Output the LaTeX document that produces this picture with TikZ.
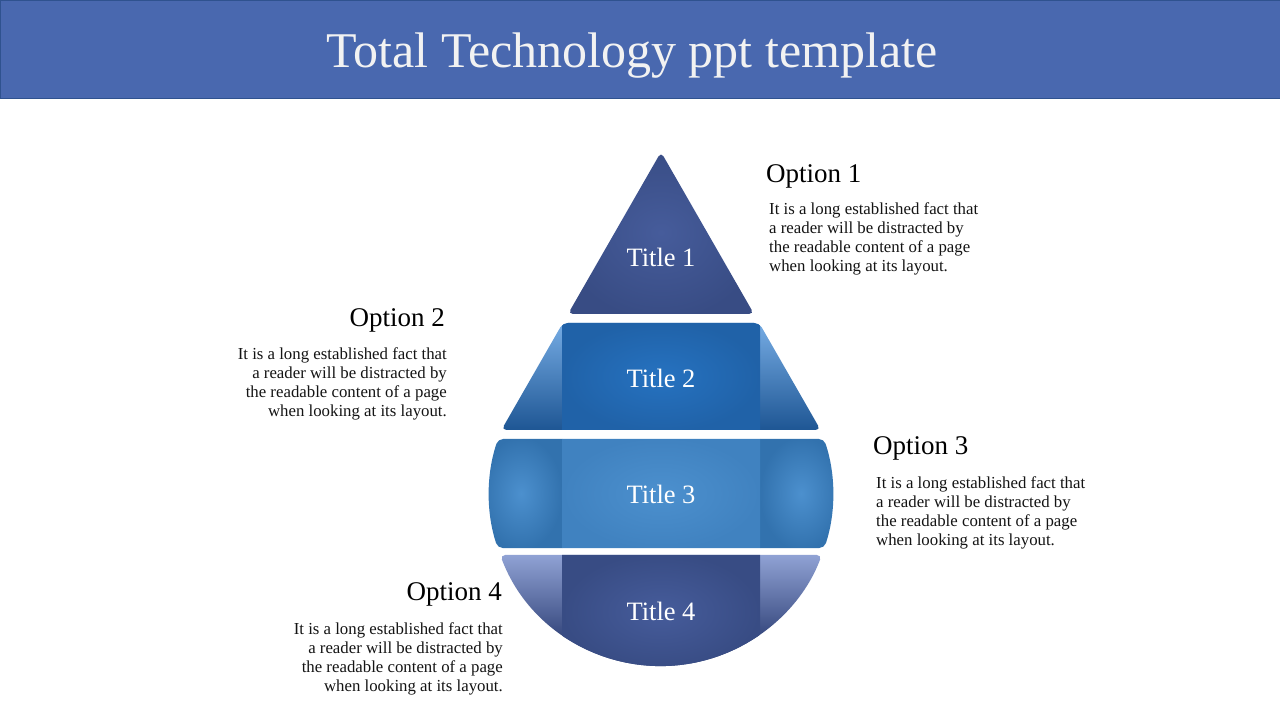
\documentclass[tikz,border=0pt]{standalone}
\usepackage{fontspec}
\setmainfont{Liberation Serif}
\usetikzlibrary{positioning,calc}
\definecolor{headblue}{RGB}{73,104,175}
\definecolor{headline}{RGB}{47,82,143}
\definecolor{navyin}{RGB}{70,92,155}
\definecolor{navyout}{RGB}{56,76,132}
\definecolor{royalin}{RGB}{38,114,192}
\definecolor{royalout}{RGB}{32,98,168}
\definecolor{royaltop}{RGB}{118,172,228}
\definecolor{royalmid}{RGB}{46,134,220}
\definecolor{royalbot}{RGB}{30,86,148}
\definecolor{skyin}{RGB}{76,144,206}
\definecolor{skyout}{RGB}{64,130,192}
\definecolor{skyside}{RGB}{50,114,174}
\definecolor{slatetop}{RGB}{144,162,212}
\definecolor{slatemid}{RGB}{80,104,182}
\definecolor{slatebot}{RGB}{50,68,122}
\definecolor{bodygray}{RGB}{20,20,20}
\tikzset{
  headtext/.style={text=white!95!black,font=\fontsize{50}{56}\selectfont,inner sep=0pt},
  titletext/.style={text=white,font=\fontsize{26.5}{30}\selectfont,inner sep=0pt},
  opthead/.style={text=black,font=\fontsize{27}{30}\selectfont,inner sep=0pt},
  optbody/.style={text=bodygray,font=\fontsize{16.8}{19}\selectfont,inner sep=0pt},
  slice/.style={rounded corners=5pt}
}
\begin{document}
\begin{tikzpicture}[x=1pt,y=1pt]
  \useasboundingbox (0,0) rectangle (1280,720);
  % header bar
  \fill[white] (0,0) rectangle (1280,720);
  \draw[fill=headblue,draw=headline] (0,622) rectangle (1280,720);
  \node[headtext] (head) at (632,664) {Total Technology ppt template};

  % teardrop: apex and circle
  \coordinate (apex) at (661,568);
  \coordinate (ctr) at (661,226);

  % slice 1
  \begin{scope}
    \clip[slice] (apex) -- (568,406) -- (754,406) -- cycle;
    \shade[inner color=navyin,outer color=navyout] (560,400) rectangle (762,575);
  \end{scope}
  % slice 2
  \begin{scope}
    \clip[slice] (562.8,397) -- (501.4,290) -- (820.6,290) -- (759.2,397) -- cycle;
    \shade[top color=royaltop,middle color=royalmid,bottom color=royalbot] (495,290) rectangle (830,397);
    \shade[inner color=royalin,outer color=royalout] (562,288) rectangle (760,399);
  \end{scope}
  % slice 3
  \begin{scope}
    \clip[slice] ($(ctr)+(161.35:172)$) arc[start angle=161.35,end angle=198.3,radius=172]
      -- ($(ctr)+(-18.3:172)$) arc[start angle=-18.3,end angle=18.65,radius=172] -- cycle;
    \shade[inner color=skyin,outer color=skyside] (480,170) rectangle (562,283);
    \shade[inner color=skyin,outer color=skyside] (760,170) rectangle (842,283);
    \shade[inner color=skyin,outer color=skyout] (562,170) rectangle (760,283);
  \end{scope}
  % slice 4
  \begin{scope}
    \clip[slice] ($(ctr)+(200.77:172)$) arc[start angle=200.77,end angle=339.23,radius=172] -- cycle;
    \shade[top color=slatetop,middle color=slatemid,bottom color=slatebot] (495,80) rectangle (830,165);
    \fill[slatebot] (495,50) rectangle (830,80);
    \shade[inner color=navyin,outer color=navyout] (562,50) rectangle (760,167);
  \end{scope}

  \node[titletext] (t1) at (661,463) {Title 1};
  \node[titletext] (t2) at (661,342) {Title 2};
  \node[titletext] (t3) at (661,226) {Title 3};
  \node[titletext] (t4) at (661,109) {Title 4};

  % options
  \node[opthead,anchor=base west] (opt1) at (766,537) {Option 1};
  \node[optbody,anchor=north west,align=left] (txt1) at (769,518)
    {It is a long established fact that\\a reader will be distracted by\\the readable content of a page\\when looking at its layout.};

  \node[opthead,anchor=base east] (opt2) at (445,393) {Option 2};
  \node[optbody,anchor=north east,align=right] (txt2) at (447,373)
    {It is a long established fact that\\a reader will be distracted by\\the readable content of a page\\when looking at its layout.};

  \node[opthead,anchor=base west] (opt3) at (873,265) {Option 3};
  \node[optbody,anchor=north west,align=left] (txt3) at (876,244)
    {It is a long established fact that\\a reader will be distracted by\\the readable content of a page\\when looking at its layout.};

  \node[opthead,anchor=base east] (opt4) at (502,119) {Option 4};
  \node[optbody,anchor=north east,align=right] (txt4) at (503,98)
    {It is a long established fact that\\a reader will be distracted by\\the readable content of a page\\when looking at its layout.};
\end{tikzpicture}
\end{document}
